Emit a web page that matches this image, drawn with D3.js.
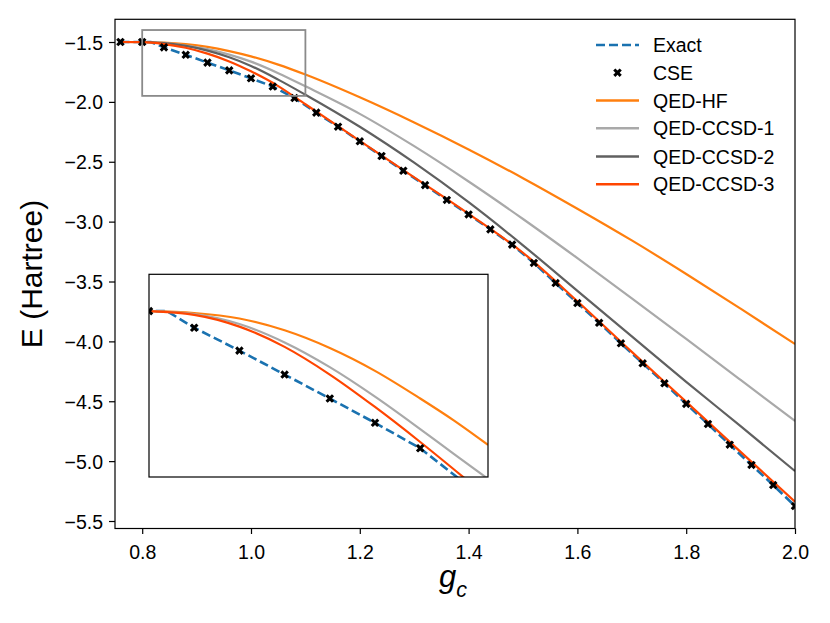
<!DOCTYPE html>
<html>
<head>
<meta charset="utf-8">
<script src="https://cdn.jsdelivr.net/npm/d3@7"></script>
<style>
  html, body { margin: 0; padding: 0; background: #fff; }
  svg { display: block; }
  text { font-family: "Liberation Sans", Arial, sans-serif; fill: #000; }
</style>
</head>
<body>
<svg id="chart" width="830" height="623"></svg>
<script>
// ---------------- data ----------------
const cseG = [0.76,0.80,0.84,0.88,0.92,0.96,1.00,1.04,1.08,1.12,1.16,1.20,1.24,1.28,1.32,1.36,1.40,1.44,1.48,1.52,1.56,1.60,1.64,1.68,1.72,1.76,1.80,1.84,1.88,1.92,1.96,2.00];
const cseE = [-1.500,-1.500,-1.545,-1.607,-1.672,-1.737,-1.803,-1.872,-1.968,-2.090,-2.207,-2.329,-2.452,-2.575,-2.695,-2.819,-2.940,-3.065,-3.192,-3.345,-3.513,-3.680,-3.845,-4.016,-4.183,-4.350,-4.522,-4.690,-4.863,-5.032,-5.200,-5.375];

const exactG = [0.76,0.80,0.816,0.84,0.88,0.92,0.96,1.00,1.04,1.08,1.12,1.16,1.20,1.24,1.28,1.32,1.36,1.40,1.44,1.48,1.52,1.56,1.60,1.64,1.68,1.72,1.76,1.80,1.84,1.88,1.92,1.96,2.00];
const exactE = [-1.500,-1.500,-1.500,-1.545,-1.607,-1.672,-1.737,-1.803,-1.872,-1.968,-2.090,-2.207,-2.329,-2.452,-2.575,-2.695,-2.819,-2.940,-3.065,-3.192,-3.345,-3.513,-3.680,-3.845,-4.016,-4.183,-4.350,-4.522,-4.690,-4.863,-5.032,-5.200,-5.375];

const qedG   = [0.76,0.80,0.84,0.88,0.92,0.96,1.00,1.05,1.10,1.20,1.30,1.40,1.50,1.60,1.70,1.80,1.90,2.00];
const hfE    = [-1.5,-1.5,-1.505,-1.518,-1.541,-1.576,-1.620,-1.689,-1.772,-1.962,-2.172,-2.397,-2.637,-2.892,-3.157,-3.437,-3.727,-4.022];
const ccsd1E = [-1.5,-1.5,-1.508,-1.530,-1.560,-1.605,-1.664,-1.760,-1.870,-2.100,-2.370,-2.665,-2.978,-3.305,-3.640,-3.980,-4.322,-4.665];
const ccsd2E = [-1.5,-1.5,-1.510,-1.533,-1.572,-1.628,-1.700,-1.814,-1.940,-2.208,-2.508,-2.838,-3.198,-3.578,-3.958,-4.338,-4.708,-5.083];
const ccsd3E = [-1.5,-1.501,-1.517,-1.548,-1.597,-1.662,-1.745,-1.868,-2.020,-2.325,-2.630,-2.935,-3.260,-3.665,-4.088,-4.505,-4.923,-5.339];

// inset (zoom of the grey box) curves as drawn in the inset
const insetG      = [0.80,0.84,0.88,0.92,0.96,1.00,1.04,1.07,1.10];
const insetHF     = [-1.5,-1.505,-1.520,-1.552,-1.600,-1.662,-1.737,-1.797,-1.863];
const insetCCSD1  = [-1.5,-1.508,-1.535,-1.585,-1.652,-1.732,-1.820,-1.888,-1.955];
const insetG3     = [0.80,0.84,0.88,0.92,0.96,1.00,1.04,1.08];
const insetCCSD3  = [-1.5,-1.510,-1.542,-1.597,-1.672,-1.760,-1.855,-1.955];

const xTicks = [0.8,1.0,1.2,1.4,1.6,1.8,2.0];
const yTicks = [-1.5,-2.0,-2.5,-3.0,-3.5,-4.0,-4.5,-5.0,-5.5];
const legendLabels = ["Exact","CSE","QED-HF","QED-CCSD-1","QED-CCSD-2","QED-CCSD-3"];
const xDomain = [0.75, 2.0];
const yDomain = [-5.5626, -1.3104];
const boxX = [0.8, 1.1];
const boxY = [-1.95, -1.4];

// ---------------- styles ----------------
const C = {
  exact: "#1a72b0",
  hf: "#ff7f0e",
  c1: "#a9a9a9",
  c2: "#606060",
  c3: "#ff4500"
};

const svg = d3.select("#chart");
const L = 115, R = 795, T = 19.3, B = 528.5;
const x = d3.scaleLinear().domain(xDomain).range([L, R]);
const y = d3.scaleLinear().domain(yDomain).range([B, T]);

const defs = svg.append("defs");
defs.append("clipPath").attr("id","mainclip").append("rect")
  .attr("x", L).attr("y", T).attr("width", R - L).attr("height", B - T);

const zip = (gs, es) => gs.map((g, i) => [g, es[i]]);

function makeLines(xs, ys) {
  const lineLin = d3.line().x(d => xs(d[0])).y(d => ys(d[1]));
  const lineSm = d3.line().x(d => xs(d[0])).y(d => ys(d[1])).curve(d3.curveMonotoneX);
  return { lineLin, lineSm };
}

const markerPath = d3.symbol().type(d3.symbolCross).size(46)();

// ---------------- main plot ----------------
const plot = svg.append("g").attr("clip-path", "url(#mainclip)");
const lm = makeLines(x, y);

plot.append("path").datum(zip(exactG, exactE)).attr("d", lm.lineLin)
  .attr("fill","none").attr("stroke",C.exact).attr("stroke-width",2.6)
  .attr("stroke-dasharray","9,4");
[[hfE,C.hf],[ccsd1E,C.c1],[ccsd2E,C.c2],[ccsd3E,C.c3]].forEach(([e,c]) => {
  plot.append("path").datum(zip(qedG, e)).attr("d", lm.lineSm)
    .attr("fill","none").attr("stroke",c).attr("stroke-width",2.2);
});
plot.selectAll("path.cse").data(zip(cseG, cseE)).enter().append("path")
  .attr("class","cse").attr("d", markerPath)
  .attr("transform", d => `translate(${x(d[0])},${y(d[1])}) rotate(45)`)
  .attr("fill","#000");

// grey zoom box
svg.append("rect")
  .attr("x", x(boxX[0])).attr("y", y(boxY[1]))
  .attr("width", x(boxX[1]) - x(boxX[0])).attr("height", y(boxY[0]) - y(boxY[1]))
  .attr("fill","none").attr("stroke","#8a8a8a").attr("stroke-width",1.8);

// frame
svg.append("rect").attr("x",L).attr("y",T).attr("width",R-L).attr("height",B-T)
  .attr("fill","none").attr("stroke","#000").attr("stroke-width",1.2);

// axes
const xAxis = d3.axisBottom(x).tickValues(xTicks).tickSize(5.5).tickPadding(6)
  .tickFormat(d3.format(".1f"));
const yAxis = d3.axisLeft(y).tickValues(yTicks).tickSize(6).tickPadding(6)
  .tickFormat(d => d3.format(".1f")(d).replace("-", "\u2212"));

const gx = svg.append("g").attr("transform",`translate(0,${B})`).call(xAxis);
const gy = svg.append("g").attr("transform",`translate(${L},0)`).call(yAxis);
[gx, gy].forEach(g => {
  g.select(".domain").remove();
  g.selectAll(".tick line").attr("stroke","#000").attr("stroke-width",1.2);
  g.selectAll(".tick text").attr("font-size","19.5px").attr("font-family","'Liberation Sans', Arial, sans-serif").attr("fill","#000");
});
gx.selectAll(".tick text").attr("dy","0.95em");
gy.selectAll(".tick text").attr("dy","0.36em");

// axis labels
svg.append("text").attr("transform","translate(42,274) rotate(-90)")
  .attr("text-anchor","middle").attr("font-size","30px").text("E (Hartree)");
const xl = svg.append("text").attr("x", 453).attr("y", 587).attr("text-anchor","middle")
  .attr("font-family","'DejaVu Sans', sans-serif").attr("font-style","italic").attr("font-size","31px");
xl.append("tspan").text("g");
xl.append("tspan").attr("font-size","21.5px").attr("dy", 10).text("c");

// ---------------- inset ----------------
const IL = 149, IR = 488, IT = 274.3, IB = 477;
const xi = d3.scaleLinear().domain(boxX).range([IL, IR]);
const yi = d3.scaleLinear().domain(boxY).range([IB, IT]);
defs.append("clipPath").attr("id","insetclip").append("rect")
  .attr("x", IL).attr("y", IT).attr("width", IR - IL).attr("height", IB - IT);
svg.append("rect").attr("x",IL).attr("y",IT).attr("width",IR-IL).attr("height",IB-IT)
  .attr("fill","#fff");
const ins = svg.append("g").attr("clip-path","url(#insetclip)");
const li = makeLines(xi, yi);
ins.append("path").datum(zip(exactG, exactE)).attr("d", li.lineLin)
  .attr("fill","none").attr("stroke",C.exact).attr("stroke-width",2.6)
  .attr("stroke-dasharray","9,4");
ins.append("path").datum(zip(insetG, insetHF)).attr("d", li.lineSm)
  .attr("fill","none").attr("stroke",C.hf).attr("stroke-width",2.2);
ins.append("path").datum(zip(insetG, insetCCSD1)).attr("d", li.lineSm)
  .attr("fill","none").attr("stroke",C.c1).attr("stroke-width",2.2);
ins.append("path").datum(zip(insetG3, insetCCSD3)).attr("d", li.lineSm)
  .attr("fill","none").attr("stroke",C.c3).attr("stroke-width",2.2);
ins.selectAll("path.cse").data(zip(cseG, cseE)).enter().append("path")
  .attr("class","cse").attr("d", markerPath)
  .attr("transform", d => `translate(${xi(d[0])},${yi(d[1])}) rotate(45)`)
  .attr("fill","#000");
svg.append("rect").attr("x",IL).attr("y",IT).attr("width",IR-IL).attr("height",IB-IT)
  .attr("fill","none").attr("stroke","#000").attr("stroke-width",1.2);

// ---------------- legend ----------------
const legY = [45, 72.7, 100.5, 128.3, 156.5, 184.3];
const lg = svg.append("g");
const hx0 = 596, hx1 = 639, tx = 653;
legendLabels.forEach((lab, i) => {
  const yy = legY[i];
  if (i === 0) {
    lg.append("line").attr("x1",hx0).attr("x2",hx1).attr("y1",yy).attr("y2",yy)
      .attr("stroke",C.exact).attr("stroke-width",2.6).attr("stroke-dasharray","9,4");
  } else if (i === 1) {
    lg.append("path").attr("d", markerPath)
      .attr("transform",`translate(${(hx0+hx1)/2},${yy}) rotate(45)`).attr("fill","#000");
  } else {
    const col = [C.hf, C.c1, C.c2, C.c3][i-2];
    lg.append("line").attr("x1",hx0).attr("x2",hx1).attr("y1",yy).attr("y2",yy)
      .attr("stroke",col).attr("stroke-width",2.4);
  }
  lg.append("text").attr("x",tx).attr("y",yy).attr("dy","0.36em")
    .attr("font-size","19.5px").text(lab);
});
</script>
</body>
</html>
